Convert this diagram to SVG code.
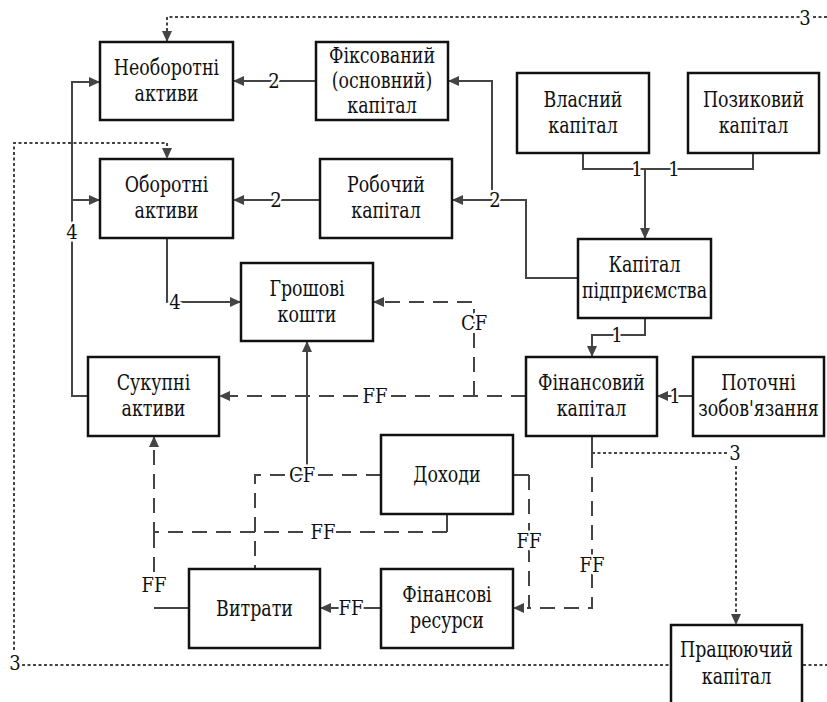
<svg xmlns="http://www.w3.org/2000/svg" width="827" height="702" viewBox="0 0 827 702">
<style>
.box{fill:#fff;stroke:#111;stroke-width:2.5}
.t{font-family:'DejaVu Serif Condensed','DejaVu Serif',serif;font-stretch:condensed;font-size:22px;fill:#111;text-anchor:middle}
.c{fill:none;stroke:#444;stroke-width:2}
.d{stroke-dasharray:15 9}
.o{stroke-dasharray:3 2.5}
.l{font-family:'DejaVu Serif Condensed','DejaVu Serif',serif;font-stretch:condensed;font-size:20px;fill:#111;text-anchor:middle;stroke:#fff;stroke-width:5;paint-order:stroke;stroke-linejoin:round}
</style>
<defs>
<marker id="a" markerUnits="userSpaceOnUse" markerWidth="11" markerHeight="10" viewBox="0 0 11 10" refX="11" refY="5" orient="auto">
<path d="M0,0 L11,5 L0,10 Z" fill="#444"/>
</marker>
</defs>
<rect width="827" height="702" fill="#fff"/>
<g id="connectors">
<path class="c o" d="M827,17 H167 V42" marker-end="url(#a)"/>
<path class="c o" d="M14,650 V143 H167 V159" marker-end="url(#a)"/>
<path class="c o" d="M22,665 H827"/>
<path class="c o" d="M592,453 H728"/>
<path class="c o" d="M736,466 V625" marker-end="url(#a)"/>
<path class="c" d="M88,396 H72 V82 H100" marker-end="url(#a)"/>
<path class="c" d="M72,200 H100" marker-end="url(#a)"/>
<path class="c" d="M316,81 H233" marker-end="url(#a)"/>
<path class="c" d="M320,200 H233" marker-end="url(#a)"/>
<path class="c" d="M578,278 H526 V200 H452" marker-end="url(#a)"/>
<path class="c" d="M492,194 V81 H448" marker-end="url(#a)"/>
<path class="c" d="M583,153 V169 H753 V153"/>
<path class="c" d="M645,169 V239" marker-end="url(#a)"/>
<path class="c" d="M645,318 V335 H592 V357" marker-end="url(#a)"/>
<path class="c" d="M693,396 H657" marker-end="url(#a)"/>
<path class="c" d="M167,238 V302 H241" marker-end="url(#a)"/>
<path class="c" d="M307,465 V341" marker-end="url(#a)"/>
<path class="c" d="M189,608 H154"/>
<path class="c" d="M381,608 H320" marker-end="url(#a)"/>
<path class="c" d="M513,475 H529"/>
<path class="c" d="M592,436 V453"/>
<path class="c" d="M447,514 V532"/>
<path class="c d" d="M526,396 H219" marker-end="url(#a)"/>
<path class="c d" d="M474,396 V302 H373" marker-end="url(#a)"/>
<path class="c d" d="M381,475 H255 V569"/>
<path class="c d" d="M447,532 H154 V436" marker-end="url(#a)"/>
<path class="c d" d="M154,572 V532"/>
<path class="c d" d="M529,475 V608 H513" marker-end="url(#a)"/>
<path class="c d" d="M592,453 V608 H529"/>
<text class="l" x="805" y="25">3</text>
<text class="l" x="15" y="670">3</text>
<text class="l" x="735" y="460">3</text>
<text class="l" x="72" y="239">4</text>
<text class="l" x="175" y="309">4</text>
<text class="l" x="274" y="88">2</text>
<text class="l" x="276" y="207">2</text>
<text class="l" x="495" y="207">2</text>
<text class="l" x="637" y="176">1</text>
<text class="l" x="674" y="176">1</text>
<text class="l" x="617" y="342">1</text>
<text class="l" x="675" y="403">1</text>
<text class="l" x="375" y="403">FF</text>
<text class="l" x="474" y="330">CF</text>
<text class="l" x="302" y="482">CF</text>
<text class="l" x="323" y="539">FF</text>
<text class="l" x="154" y="592">FF</text>
<text class="l" x="351" y="615">FF</text>
<text class="l" x="529" y="548">FF</text>
<text class="l" x="592" y="572">FF</text>
</g>
<g id="neoborotni"><rect class="box" x="100" y="42" width="133" height="78"/><text class="t" transform="scale(0.88 1)" x="189.2" y="75">Необоротні</text><text class="t" transform="scale(0.88 1)" x="189.2" y="101">активи</text></g>
<g id="fiksovanyi"><rect class="box" x="316" y="42" width="132" height="78"/><text class="t" transform="scale(0.88 1)" x="434.09" y="63">Фіксований</text><text class="t" transform="scale(0.88 1)" x="434.09" y="88">(основний)</text><text class="t" transform="scale(0.88 1)" x="434.09" y="113">капітал</text></g>
<g id="oborotni"><rect class="box" x="100" y="159" width="133" height="79"/><text class="t" transform="scale(0.88 1)" x="189.2" y="192.5">Оборотні</text><text class="t" transform="scale(0.88 1)" x="189.2" y="218.5">активи</text></g>
<g id="robochyi"><rect class="box" x="320" y="159" width="132" height="79"/><text class="t" transform="scale(0.88 1)" x="438.64" y="192.5">Робочий</text><text class="t" transform="scale(0.88 1)" x="438.64" y="218.5">капітал</text></g>
<g id="vlasnyi"><rect class="box" x="517" y="73" width="132" height="80"/><text class="t" transform="scale(0.88 1)" x="662.5" y="107">Власний</text><text class="t" transform="scale(0.88 1)" x="662.5" y="133">капітал</text></g>
<g id="pozykovyi"><rect class="box" x="688" y="73" width="131" height="80"/><text class="t" transform="scale(0.88 1)" x="856.25" y="107">Позиковий</text><text class="t" transform="scale(0.88 1)" x="856.25" y="133">капітал</text></g>
<g id="kapital-pidpryiemstva"><rect class="box" x="578" y="239" width="133" height="79"/><text class="t" transform="scale(0.88 1)" x="732.39" y="272.5">Капітал</text><text class="t" transform="scale(0.88 1)" x="732.39" y="298.5">підприємства</text></g>
<g id="hroshovi"><rect class="box" x="241" y="263" width="132" height="78"/><text class="t" transform="scale(0.88 1)" x="348.86" y="296">Грошові</text><text class="t" transform="scale(0.88 1)" x="348.86" y="322">кошти</text></g>
<g id="sukupni"><rect class="box" x="88" y="357" width="131" height="79"/><text class="t" transform="scale(0.88 1)" x="174.43" y="390.5">Сукупні</text><text class="t" transform="scale(0.88 1)" x="174.43" y="416.5">активи</text></g>
<g id="finansovyi"><rect class="box" x="526" y="357" width="131" height="79"/><text class="t" transform="scale(0.88 1)" x="672.16" y="390.5">Фінансовий</text><text class="t" transform="scale(0.88 1)" x="672.16" y="416.5">капітал</text></g>
<g id="potochni"><rect class="box" x="693" y="357" width="131" height="79"/><text class="t" transform="scale(0.88 1)" x="861.93" y="390.5">Поточні</text><text class="t" transform="scale(0.88 1)" x="861.93" y="416.5">зобов'язання</text></g>
<g id="dokhody"><rect class="box" x="381" y="435" width="132" height="79"/><text class="t" transform="scale(0.88 1)" x="507.95" y="482">Доходи</text></g>
<g id="vytraty"><rect class="box" x="189" y="569" width="131" height="79"/><text class="t" transform="scale(0.88 1)" x="289.2" y="616">Витрати</text></g>
<g id="finansovi-resursy"><rect class="box" x="381" y="569" width="132" height="79"/><text class="t" transform="scale(0.88 1)" x="507.95" y="602.5">Фінансові</text><text class="t" transform="scale(0.88 1)" x="507.95" y="628.5">ресурси</text></g>
<g id="pratsiuiuchyi"><rect class="box" x="671" y="625" width="131" height="80"/><text class="t" transform="scale(0.88 1)" x="836.93" y="657">Працюючий</text><text class="t" transform="scale(0.88 1)" x="836.93" y="684">капітал</text></g>
</svg>
